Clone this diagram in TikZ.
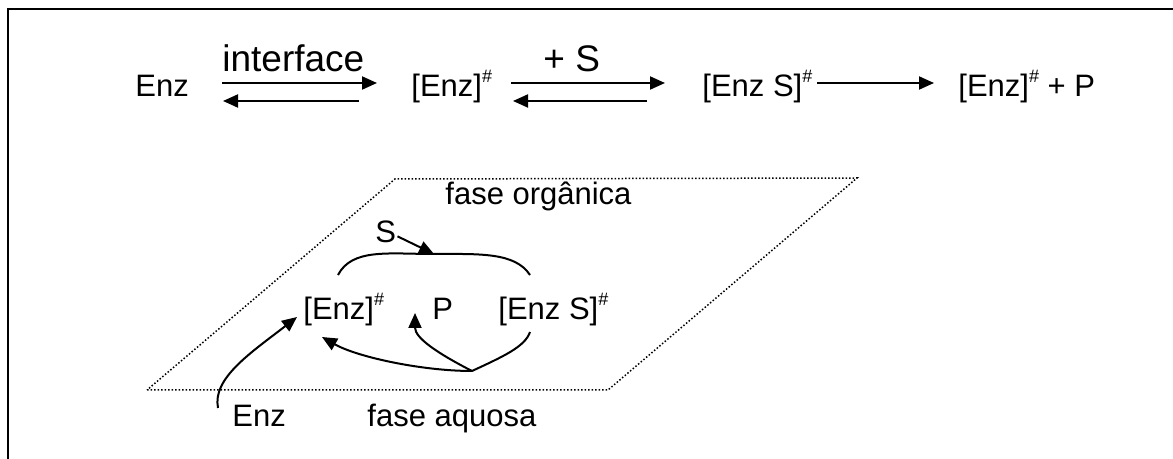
\documentclass[tikz,border=0pt]{standalone}
\usepackage{fontspec}
\setmainfont{Liberation Sans}
\usetikzlibrary{arrows.meta}

\newcommand{\hashsup}{\raisebox{7pt}{\fontsize{9}{9}\selectfont\#}}

\begin{document}
\begin{tikzpicture}[x=0.5pt, y=-0.5pt, inner sep=0pt]
    \tikzstyle{spec} = [anchor=base west, font=\fontsize{15.5}{18}\selectfont]
    \tikzstyle{lbl} = [anchor=base west, font=\fontsize{18.5}{22}\selectfont]
    \tikzstyle{line} = [draw, line width=1pt, -{Triangle[length=7.5pt, width=6.5pt]}]
    \tikzstyle{curve} = [draw, line width=1pt]
    \tikzstyle{phase} = [draw, line width=0.75pt, dash pattern=on 0.75pt off 1pt]

    \useasboundingbox (0,0) rectangle (1173,459);
    \draw [line width=0.9pt] (8,459) -- (8,9) -- (1173,9);

    \node [spec] (enz) at (135,97) {Enz};
    \node [lbl] (iface) at (222,72) {interface};
    \node [spec] (enzA) at (411,97) {[Enz]\hashsup};
    \node [lbl] (plusS) at (543,72) {+ S};
    \node [spec] (enzS) at (702,97) {[Enz S]\hashsup};
    \node [spec] (prod) at (958,97) {[Enz]\hashsup{} + P};

    \path [line] ([shift={(87,-14)}]enz.base west) -- ([shift={(-34,-14)}]enzA.base west);
    \path [line] ([shift={(-52,4)}]enzA.base west) -- ([shift={(88,4)}]enz.base west);
    \path [line] ([shift={(100,-14)}]enzA.base west) -- ([shift={(-37,-14)}]enzS.base west);
    \path [line] ([shift={(-55,4)}]enzS.base west) -- ([shift={(102,4)}]enzA.base west);
    \path [line] ([shift={(115,-14)}]enzS.base west) -- ([shift={(-24,-14)}]prod.base west);

    \draw [phase] (147,390) -- (608,390) -- (857,178) -- (395,179) -- cycle;

    \node [spec] (org) at (445,205) {fase orgânica};
    \node [spec] (sB) at (375,243) {S};
    \node [spec] (enzB) at (303,320) {[Enz]\hashsup};
    \node [spec] (pB) at (432,320) {P};
    \node [spec] (enzSB) at (498,320) {[Enz S]\hashsup};
    \node [spec] (enzC) at (232,427) {Enz};
    \node [spec] (aq) at (367,427) {fase aquosa};

    \path [curve] ([shift={(35,-45)}]enzB.base west) .. controls +(14,-27) and +(-45,0) .. (434,254) coordinate (bind)
        .. controls +(45,0) and +(-15,-23) .. ([shift={(32,-45)}]enzSB.base west);
    \path [line] ([shift={(1,4)}]sB.east) -- (bind);
    \path [curve] ([shift={(32,12)}]enzSB.base west) .. controls +(-5,15) and +(30,-14) .. (472,371) coordinate (split);
    \path [line] (split) .. controls +(-35,-18) and +(0,25) .. ([shift={(-17,-7)}]pB.base west);
    \path [line] (split) .. controls +(-50,0) and +(35,20) .. ([shift={(19,17)}]enzB.base west);
    \path [line] ([shift={(-14,-19)}]enzC.base west) .. controls +(-6,-30) and +(-45,35) .. ([shift={(-6,-3)}]enzB.base west);
\end{tikzpicture}
\end{document}
